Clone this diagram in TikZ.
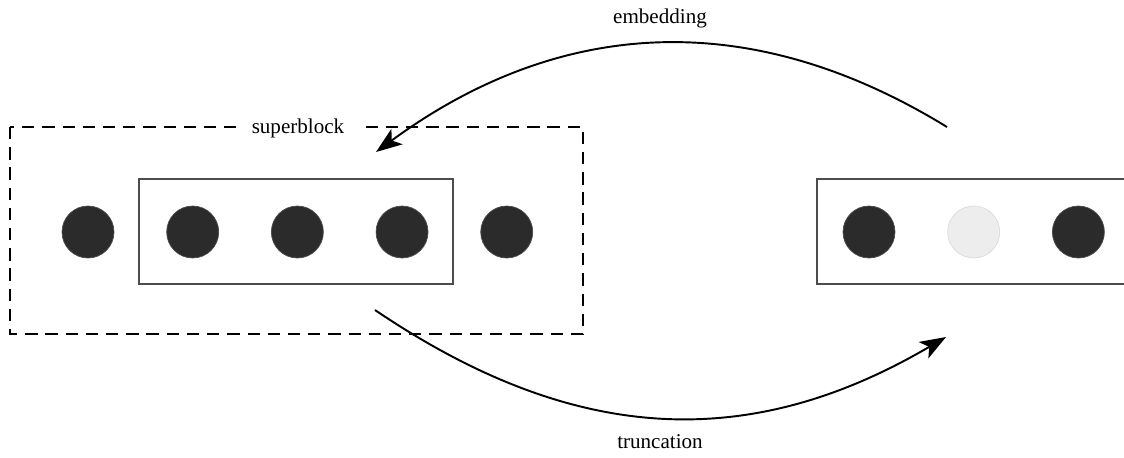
\documentclass[tikz,border=0pt]{standalone}
\usepackage{fontspec}
\setmainfont{Liberation Serif}
\usetikzlibrary{arrows.meta,positioning}

\begin{document}
\begin{tikzpicture}[
  x=0.02cm, y=-0.02cm,
  node distance=1.04cm,
  font=\fontsize{12}{14}\selectfont,
  bit/.style={circle, fill=black!83, draw=black!70, line width=0.4pt, minimum size=1.04cm, inner sep=0pt},
  gap/.style={circle, fill=black!7, draw=black!14, line width=0.4pt, minimum size=1.04cm, inner sep=0pt},
  blockbox/.style={draw=black!70, line width=0.8pt},
  superbox/.style={draw, line width=1pt, dash pattern=on 7pt off 4.5pt},
  curvearrow/.style={-{Stealth[length=5.2mm, width=3.8mm, inset=1.3mm]}, line width=1.1pt}
]
\clip (0,0) rectangle (1124,457);

% superblock
\draw[superbox] (10,127) rectangle (583,334);
\node[fill=white, inner xsep=8pt] (sblabel) at (298,128) {superblock};
\draw[blockbox] (139,179) rectangle (453,284);

\node[bit] (b0) at (88,232) {};
\node[bit, right=of b0] (b1) {};
\node[bit, right=of b1] (b2) {};
\node[bit, right=of b2] (b3) {};
\node[bit, right=of b3] (b4) {};

% truncated block
\draw[blockbox] (817,179) rectangle (1140,284);
\node[bit] (t0) at (869,232) {};
\node[gap, right=of t0] (t1) {};
\node[bit, right=of t1] (t2) {};

% arrows
\coordinate (embfrom) at (947,127);
\coordinate (embto) at (376,152);
\coordinate (trfrom) at (375,310);
\coordinate (trto) at (946,337);

\draw[curvearrow] (embfrom) .. controls (735,-3) and (545,28) .. (embto);
\draw[curvearrow] (trfrom) .. controls (570,442) and (745,455) .. (trto);

\node (emblabel) at (660,18) {embedding};
\node (trlabel) at (660,442) {truncation};

\end{tikzpicture}
\end{document}
